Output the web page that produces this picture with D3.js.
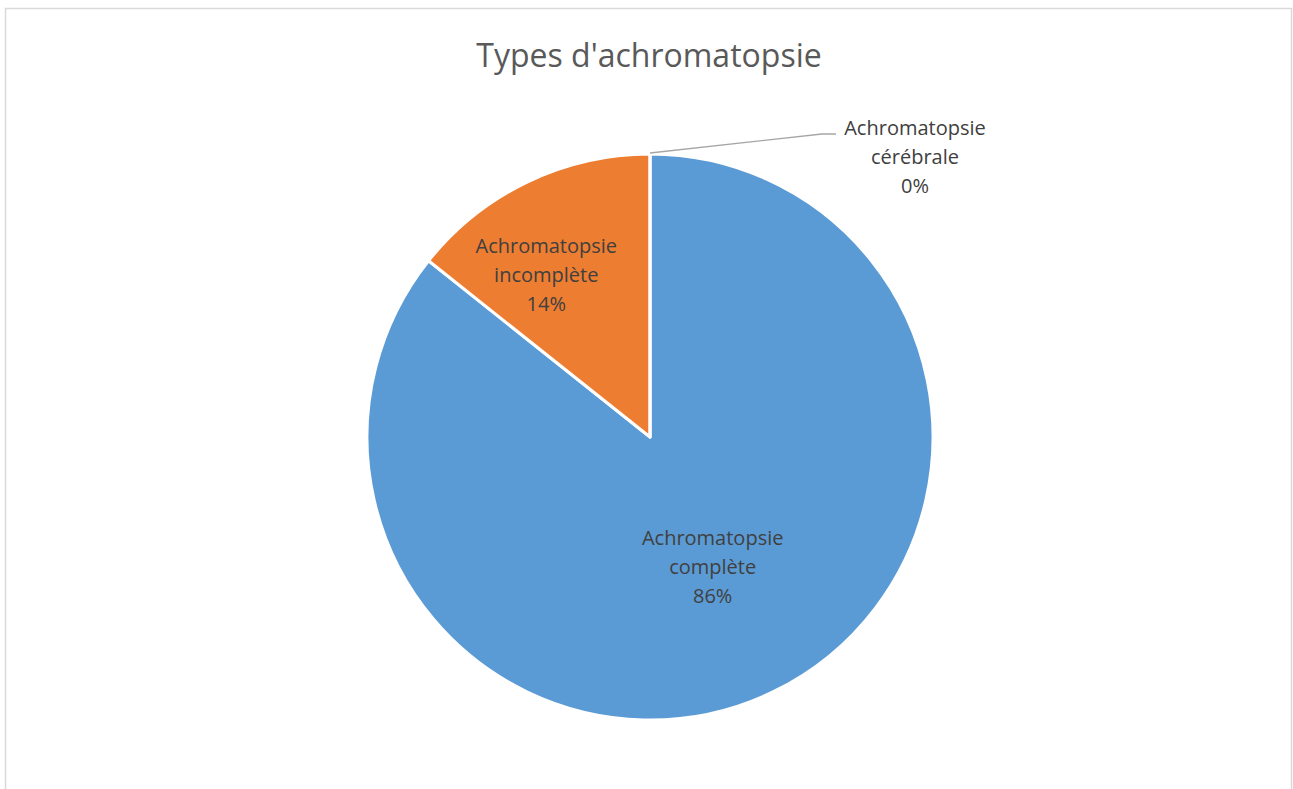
<!DOCTYPE html>
<html>
<head>
<meta charset="utf-8">
<script src="https://cdn.jsdelivr.net/npm/d3@7"></script>
<style>
html,body{margin:0;padding:0;background:#fff;}
svg{display:block;}
</style>
</head>
<body>
<svg id="chart" width="1293" height="789"></svg>
<script>
const categories = ["Achromatopsie complète", "Achromatopsie incomplète", "Achromatopsie cérébrale"];
const labelLines = [["Achromatopsie", "complète"], ["Achromatopsie", "incomplète"], ["Achromatopsie", "cérébrale"]];
const values = [85.7, 14.3, 0];
const colors = ["#5B9BD5", "#ED7D31", "#A5A5A5"];
const title = "Types d'achromatopsie";

const W = 1293, H = 789;
const svg = d3.select("#chart");

// chart border
svg.append("rect").attr("x", 5.5).attr("y", 8.5).attr("width", 1286).attr("height", 800)
  .attr("fill", "#fff").attr("stroke", "#d9d9d9").attr("stroke-width", 1.5);

svg.append("text").attr("x", 649).attr("y", 67).attr("text-anchor", "middle")
  .attr("font-family", "'Open Sans', sans-serif").attr("font-size", 32)
  .attr("fill", "#595959").text(title);

const cx = 650, cy = 437, R = 283;
const total = d3.sum(values);
const pie = d3.pie().sort(null).value(d => d)(values);
const arc = d3.arc().innerRadius(0).outerRadius(R);
const g = svg.append("g").attr("transform", `translate(${cx},${cy})`);

g.selectAll("path").data(pie).enter().append("path")
  .attr("d", arc).attr("fill", (d, i) => colors[i])
  .attr("stroke", "#fff").attr("stroke-width", 3).attr("stroke-linejoin", "round");

const fmt = v => Math.round(v / total * 100) + "%";
const lineH = 29;
const fontSize = 20;

// label placement: radius fraction and angle tweak per slice (Excel best fit)
const labelRad = [0.51, 0.68, null];
const labelAngleShift = [0.0, -0.12, 0];

function drawLabel(x, y, lines) {
  const t = svg.append("text").attr("text-anchor", "middle")
    .attr("font-family", "'Open Sans', sans-serif").attr("font-size", fontSize).attr("fill", "#404040");
  lines.forEach((s, k) => {
    t.append("tspan").attr("x", x).attr("y", y + (k - (lines.length - 1) / 2) * lineH)
      .attr("dy", "0.35em").text(s);
  });
}

pie.forEach((d, i) => {
  const lines = labelLines[i].concat([fmt(d.value)]);
  if (labelRad[i] !== null) {
    const a = (d.startAngle + d.endAngle) / 2 + labelAngleShift[i];
    const r = R * labelRad[i];
    drawLabel(cx + r * Math.sin(a), cy - r * Math.cos(a), lines);
  } else {
    // outside label with leader line
    const a = (d.startAngle + d.endAngle) / 2;
    const px = cx + R * Math.sin(a), py = cy - R * Math.cos(a);
    const lx = 915, ly = 157;
    const elbowX = 822, elbowY = 134, endX = 836;
    svg.append("polyline")
      .attr("points", `${px},${py - 1} ${elbowX},${elbowY} ${endX},${elbowY}`)
      .attr("fill", "none").attr("stroke", "#a6a6a6").attr("stroke-width", 1.3);
    drawLabel(lx, ly, lines);
  }
});
</script>
</body>
</html>
